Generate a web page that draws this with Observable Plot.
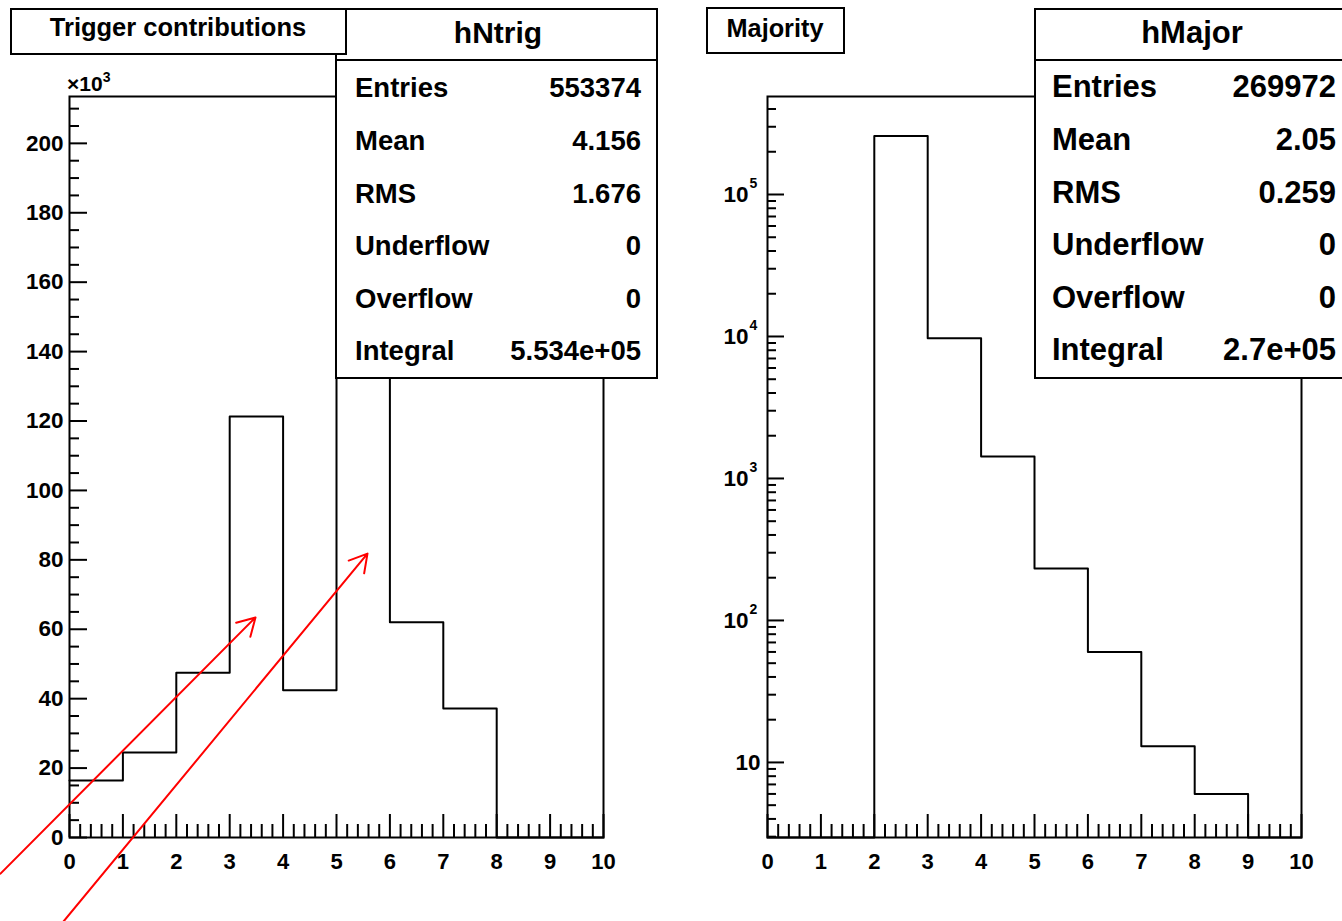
<!DOCTYPE html>
<html><head><meta charset="utf-8">
<script src="https://cdn.jsdelivr.net/npm/d3@7"></script>
<script src="https://cdn.jsdelivr.net/npm/@observablehq/plot@0.6"></script>
<style>
body{margin:0;background:#fff;}
#root{position:relative;width:1342px;height:921px;overflow:hidden;background:#fff;font-family:'Liberation Sans',Arial,Helvetica,sans-serif;font-weight:bold;color:#000;}
.panel{position:absolute;top:0;}
.box{position:absolute;box-sizing:border-box;border:2px solid #000;background:#fff;}
.t{position:absolute;white-space:nowrap;line-height:1;}
</style></head><body><div id="root"></div>
<script>
// ---- data ----
const binEdges = [0, 1, 2, 3, 4, 5, 6, 7, 8, 9, 10];
const trigCounts = [16400, 24500, 47500, 121300, 42400, 202100, 62000, 37200, 0, 0];
const majorCounts = [0, 0, 258530, 9700, 1430, 232, 60, 13, 6, 0];
const xTickLabels = [0, 1, 2, 3, 4, 5, 6, 7, 8, 9, 10];
const trigYTicks = [0, 20000, 40000, 60000, 80000, 100000, 120000, 140000, 160000, 180000, 200000];
const majorYTicks = [10, 100, 1000, 10000, 100000];
const trigTitle = "Trigger contributions";
const majorTitle = "Majority";
const trigStatsName = "hNtrig";
const majorStatsName = "hMajor";
const statLabels = ["Entries", "Mean", "RMS", "Underflow", "Overflow", "Integral"];
const trigStatValues = ["553374", "4.156", "1.676", "0", "0", "5.534e+05"];
const majorStatValues = ["269972", "2.05", "0.259", "0", "0", "2.7e+05"];
const arrowTailX = [-1.292, -0.112];
const arrowTailY = [-10400, -24200];
const arrowHeadX = [3.483, 5.58];
const arrowHeadY = [63400, 81800];

// ---- layout ----
const W = 671, H = 921, MT = 96, MB = 84;
const innerH = H - MT - MB; // 741
const innerW = 534;
const font = "'Liberation Sans', Arial, Helvetica, sans-serif";
const style = {fontFamily: font, fontWeight: "bold", fontSize: "22px", color: "black", background: "transparent", overflow: "visible"};

const xMinor = d3.range(1, 50).map(i => i / 5).filter(v => Math.abs(v - Math.round(v)) > 1e-9);
const linYMax = 213500;
const linMinor = d3.range(0, linYMax, 5000).filter(v => v % 20000 !== 0);
const logDomain = [2.96, 4.9e5];
const logMinor = [];
for (let k = 0; k <= 5; k++) for (let m = 2; m <= 9; m++) {
  const v = m * Math.pow(10, k);
  if (v >= logDomain[0] && v <= logDomain[1]) logMinor.push(v);
}

function steps(counts, floor) {
  return binEdges.map((e, i) => ({x: e, y: Math.max(counts[Math.min(i, counts.length - 1)], floor)}));
}

function xTicksMarks() {
  return [
    Plot.tickX(xTickLabels, {x: d => d, insetTop: innerH - 23, stroke: "black", strokeWidth: 2}),
    Plot.tickX(xMinor, {x: d => d, insetTop: innerH - 13, stroke: "black", strokeWidth: 2}),
    Plot.axisX(xTickLabels, {tickSize: 0, tickPadding: 16, label: null, fontSize: 22, fontWeight: "bold"})
  ];
}

const arrows = arrowTailX.map((_, i) => ({x1: arrowTailX[i], y1: arrowTailY[i], x2: arrowHeadX[i], y2: arrowHeadY[i]}));

const left = Plot.plot({
  width: W, height: H, marginTop: MT, marginBottom: MB, marginLeft: 69, marginRight: 68,
  style,
  x: {domain: [0, 10]},
  y: {domain: [0, linYMax]},
  marks: [
    ...xTicksMarks(),
    Plot.tickY(trigYTicks, {y: d => d, insetRight: innerW - 18, stroke: "black", strokeWidth: 2}),
    Plot.tickY(linMinor, {y: d => d, insetRight: innerW - 10, stroke: "black", strokeWidth: 2}),
    Plot.axisY(trigYTicks, {tickSize: 0, tickPadding: 6, tickFormat: d => d / 1000, label: null, fontSize: 22.5, fontWeight: "bold"}),
    Plot.line(steps(trigCounts, 0), {x: "x", y: "y", curve: "step-after", stroke: "black", strokeWidth: 2}),
    Plot.frame({stroke: "black", strokeWidth: 2}),
    Plot.arrow(arrows, {x1: "x1", y1: "y1", x2: "x2", y2: "y2", stroke: "red", strokeWidth: 2, headLength: 15, headAngle: 60})
  ]
});

const right = Plot.plot({
  width: W, height: H, marginTop: MT, marginBottom: MB, marginLeft: 96, marginRight: 41,
  style,
  x: {domain: [0, 10]},
  y: {type: "log", domain: logDomain, axis: null},
  marks: [
    ...xTicksMarks(),
    Plot.tickY(majorYTicks, {y: d => d, insetRight: innerW - 17, stroke: "black", strokeWidth: 2}),
    Plot.tickY(logMinor, {y: d => d, insetRight: innerW - 9, stroke: "black", strokeWidth: 2}),
    Plot.text(majorYTicks.filter(d => d > 10), {y: d => d, text: () => "10", frameAnchor: "left", textAnchor: "end", dx: -19, fontSize: 22.5, fontWeight: "bold"}),
    Plot.text(majorYTicks.filter(d => d === 10), {y: d => d, text: () => "10", frameAnchor: "left", textAnchor: "end", dx: -7, fontSize: 22.5, fontWeight: "bold"}),
    Plot.text(majorYTicks.filter(d => d > 10), {y: d => d, text: d => String(Math.round(Math.log10(d))), frameAnchor: "left", textAnchor: "start", dx: -18, dy: -11, fontSize: 14, fontWeight: "bold"}),
    Plot.line(steps(majorCounts, logDomain[0]), {x: "x", y: "y", curve: "step-after", stroke: "black", strokeWidth: 2}),
    Plot.frame({stroke: "black", strokeWidth: 2})
  ]
});

const root = document.getElementById("root");
left.classList.add("panel"); left.style.left = "0px";
right.classList.add("panel"); right.style.left = "671px";
root.appendChild(left);
root.appendChild(right);

function box(x, y, w, h) {
  const d = document.createElement("div");
  d.className = "box";
  Object.assign(d.style, {left: x + "px", top: y + "px", width: w + "px", height: h + "px"});
  root.appendChild(d);
  return d;
}
function line(x, y, w) {
  const d = document.createElement("div");
  Object.assign(d.style, {position: "absolute", left: x + "px", top: (y - 1) + "px", width: w + "px", height: "2px", background: "#000"});
  root.appendChild(d);
}
function txt(s, x, baseline, size, anchor) {
  const d = document.createElement("div");
  d.className = "t";
  d.innerHTML = s;
  d.style.fontSize = size + "px";
  d.style.top = (baseline - 0.8465 * size) + "px";
  if (anchor === "start") d.style.left = x + "px";
  else if (anchor === "end") { d.style.right = (1342 - x) + "px"; }
  else { d.style.left = x + "px"; d.style.transform = "translateX(-50%)"; }
  root.appendChild(d);
  return d;
}

const rowBase = [97, 150, 203, 255, 308, 360];

// left stats box
box(335, 8, 323, 371);
line(335, 60, 323);
txt(trigStatsName, 498, 43, 30, "middle");
statLabels.forEach((l, i) => { txt(l, 355, rowBase[i], 27.5, "start"); txt(trigStatValues[i], 641, rowBase[i], 27.5, "end"); });
// left title
box(10, 8, 337, 47);
txt(trigTitle, 178, 37, 25.5, "middle");
// x10^3
txt("×10<span style=\"font-size:14px;position:relative;top:-9px\">3</span>", 67, 91, 21, "start");

// right stats box
box(1034, 8, 320, 371);
line(1034, 60, 320);
txt(majorStatsName, 1192, 43, 31, "middle");
statLabels.forEach((l, i) => { txt(l, 1052, rowBase[i], 31, "start"); txt(majorStatValues[i], 1336, rowBase[i], 31, "end"); });
// right title
box(706, 7, 139, 47);
txt(majorTitle, 775, 37, 25.3, "middle");
</script></body></html>
